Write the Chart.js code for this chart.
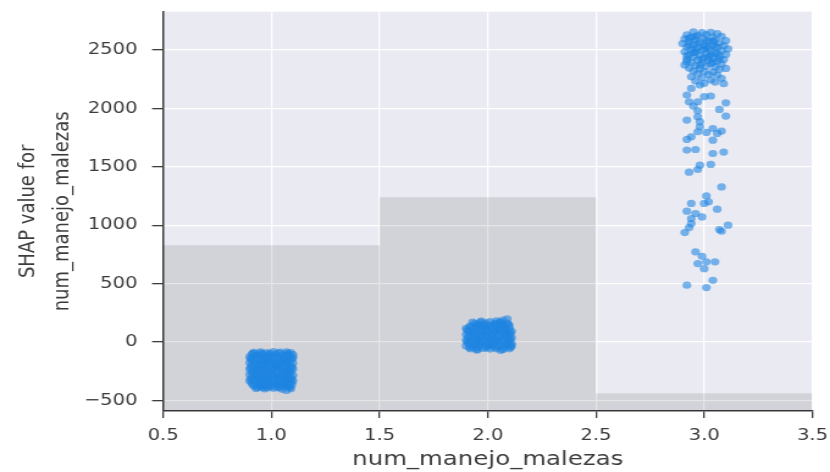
<!DOCTYPE html>
<html>
<head>
<meta charset="utf-8">
<script src="https://cdn.jsdelivr.net/npm/chart.js@4.4.0/dist/chart.umd.min.js"></script>
<style>
	html, body { margin: 0; padding: 0; background: #ffffff; overflow: hidden; }
	/* the reference picture is stretched sideways, so the chart is drawn narrow and widened */
	#wrap { width: 680px; height: 472px; transform: scaleX(1.2206); transform-origin: 0 0; }
</style>
</head>
<body>
<div id="wrap"><canvas id="chart" width="680" height="472"></canvas></div>
<script>
// histogram of the feature (drawn in SHAP units behind the points)
var histEdges = [0.5, 1.5, 2.5, 3.5];
var histTops = [829, 1240, -440];

// axis ticks
var xTicks = [0.5, 1.0, 1.5, 2.0, 2.5, 3.0, 3.5];
var yTicks = [-500, 0, 500, 1000, 1500, 2000, 2500];

// SHAP values, feature value 1 (jittered x)
var shapAt1 = [
	[0.92,-88],[0.95,-84],[0.98,-90],[1.01,-82],[1.04,-87],[1.07,-85],[1.09,-92],
	[0.91,-105],[0.93,-110],[0.96,-102],[0.99,-108],[1.02,-104],[1.05,-111],[1.08,-106],[1.10,-109],
	[0.90,-128],[0.92,-134],[0.95,-131],[0.97,-126],[1.00,-133],[1.03,-129],[1.06,-135],[1.08,-127],[1.10,-132],
	[0.91,-156],[0.94,-151],[0.96,-158],[0.99,-153],[1.01,-160],[1.04,-150],[1.06,-157],[1.09,-154],
	[0.90,-178],[0.93,-184],[0.95,-176],[0.98,-182],[1.00,-179],[1.02,-186],[1.05,-177],[1.07,-183],[1.10,-180],
	[0.91,-203],[0.94,-209],[0.97,-201],[0.99,-207],[1.02,-204],[1.04,-210],[1.07,-202],[1.09,-206],
	[0.90,-232],[0.92,-227],[0.95,-234],[0.98,-229],[1.01,-235],[1.03,-228],[1.06,-233],[1.08,-226],[1.10,-231],
	[0.91,-254],[0.94,-259],[0.96,-252],[0.99,-257],[1.02,-251],[1.05,-258],[1.07,-253],[1.09,-260],
	[0.90,-279],[0.93,-284],[0.95,-277],[0.98,-282],[1.00,-286],[1.03,-278],[1.06,-283],[1.08,-280],[1.10,-285],
	[0.91,-304],[0.94,-308],[0.97,-301],[0.99,-309],[1.02,-303],[1.04,-307],[1.07,-302],[1.09,-306],
	[0.90,-331],[0.92,-326],[0.95,-333],[0.98,-328],[1.01,-334],[1.03,-327],[1.06,-332],[1.08,-329],[1.10,-335],
	[0.91,-353],[0.94,-358],[0.96,-351],[0.99,-356],[1.02,-360],[1.05,-352],[1.07,-357],[1.09,-354],
	[0.92,-378],[0.95,-383],[0.98,-376],[1.00,-381],[1.03,-385],[1.06,-379],[1.08,-384],
	[0.93,-398],[0.97,-402],[1.01,-396],[1.05,-405],[1.07,-415],[1.09,-400],[0.96,-392],
	[0.935,-118],[0.975,-142],[1.015,-120],[1.055,-145],[0.945,-192],[0.985,-168],[1.025,-195],[1.065,-170],
	[0.925,-245],[0.965,-218],[1.005,-246],[1.045,-220],[1.085,-244],[0.935,-292],[0.975,-270],[1.015,-295],
	[1.055,-268],[0.945,-342],[0.985,-318],[1.025,-345],[1.065,-320],[0.965,-366],[1.035,-370],
	[0.915,-96],[0.955,-95],[0.995,-97],[1.035,-96],[1.075,-98],
	[0.905,-142],[0.945,-120],[0.985,-128],[1.025,-141],[1.065,-118],[1.095,-144],
	[0.915,-166],[0.955,-190],[0.995,-171],[1.035,-192],[1.075,-168],
	[0.905,-218],[0.945,-240],[0.985,-217],[1.025,-222],[1.065,-245],[1.095,-218],
	[0.915,-268],[0.955,-290],[0.995,-270],[1.035,-292],[1.075,-266],
	[0.905,-318],[0.945,-316],[0.985,-343],[1.025,-318],[1.065,-344],[1.095,-320],
	[0.915,-366],[0.955,-372],[0.995,-368],[1.045,-366],[1.075,-372],[1.095,-366],
	[0.935,-388],[0.985,-392],[1.035,-394],[1.085,-390]
];

// SHAP values, feature value 2
var shapAt2 = [
	[1.92,-58],[1.95,-63],[1.98,-56],[2.01,-61],[2.04,-57],[2.07,-64],[2.10,-59],
	[1.90,-34],[1.93,-38],[1.96,-31],[1.99,-36],[2.02,-33],[2.05,-39],[2.08,-32],[2.11,-37],
	[1.91,-9],[1.94,-13],[1.97,-6],[2.00,-11],[2.03,-8],[2.06,-14],[2.09,-7],[2.11,-12],
	[1.90,16],[1.92,12],[1.95,18],[1.98,13],[2.01,19],[2.04,11],[2.07,17],[2.10,14],
	[1.91,41],[1.94,37],[1.97,44],[2.00,38],[2.02,43],[2.05,36],[2.08,42],[2.11,39],
	[1.90,64],[1.93,68],[1.96,62],[1.99,67],[2.02,63],[2.05,69],[2.08,61],[2.10,66],
	[1.91,89],[1.94,93],[1.97,87],[2.00,92],[2.03,88],[2.06,94],[2.09,86],[2.11,91],
	[1.90,116],[1.93,112],[1.96,118],[1.99,113],[2.02,119],[2.05,111],[2.08,117],[2.10,114],
	[1.92,139],[1.95,143],[1.98,137],[2.01,142],[2.04,138],[2.07,144],[2.10,140],
	[1.94,160],[1.99,163],[2.03,158],[2.06,165],[2.09,161],
	[2.04,180],[2.07,188],[2.09,198],[1.97,178],[2.01,175],[1.93,170],
	[1.95,-70],[2.06,-72],
	[1.925,-22],[1.965,2],[2.005,-25],[2.045,0],[2.085,-20],[1.935,28],[1.975,55],[2.015,26],
	[2.055,52],[2.095,27],[1.925,78],[1.965,103],[2.005,76],[2.045,100],[2.085,79],[1.945,128],
	[1.985,150],[2.025,126],[2.065,152],
	[1.915,-48],[1.955,-47],[1.995,-49],[2.035,-46],[2.075,-50],[2.105,-45],
	[1.905,3],[1.945,-21],[1.985,3],[2.025,-21],[2.065,5],[2.105,-22],
	[1.915,52],[1.955,28],[1.995,53],[2.035,27],[2.075,54],[2.105,28],
	[1.905,102],[1.945,77],[1.985,102],[2.025,78],[2.065,103],[2.105,79],
	[1.915,128],[1.955,152],[1.995,128],[2.035,150],[2.075,127],[2.095,152],
	[1.965,170],[2.055,172]
];

// SHAP values, feature value 3
var shapAt3 = [
	[2.95,2655],[2.99,2648],[3.03,2652],[3.06,2640],[2.92,2630],[2.97,2625],[3.01,2632],[3.08,2618],[2.94,2610],[3.04,2608],
	[2.91,2595],[2.96,2590],[3.00,2598],[3.05,2585],[3.10,2580],[2.93,2570],[2.98,2565],[3.02,2572],[3.07,2560],[2.90,2555],
	[2.95,2548],[3.00,2540],[3.04,2545],[3.09,2538],[2.92,2525],[2.97,2520],[3.02,2515],[3.06,2522],[3.11,2510],[2.94,2505],
	[2.99,2498],[3.03,2490],[3.08,2495],[2.91,2485],[2.96,2478],[3.01,2470],[3.05,2475],[2.93,2460],[2.98,2455],[3.07,2450],
	[3.10,2462],[2.95,2440],[3.00,2435],[3.04,2428],[2.92,2420],[2.97,2415],[3.02,2410],[3.06,2405],[3.09,2418],[2.94,2395],
	[2.99,2390],[3.03,2385],[3.08,2380],[2.91,2372],[2.96,2365],[3.01,2360],[3.05,2355],[2.93,2345],[2.98,2338],[3.07,2335],
	[3.10,2342],[2.95,2320],[3.00,2315],[3.04,2310],[2.97,2295],[3.02,2290],[3.06,2285],[2.94,2270],[2.99,2262],[3.08,2258],
	[3.03,2245],[2.96,2235],[3.05,2225],[3.00,2215],[2.98,2200],[3.09,2212],
	[2.93,2600],[3.01,2580],[2.97,2555],[3.05,2530],[2.93,2540],[3.00,2510],[2.96,2500],[3.03,2455],[2.99,2420],[2.95,2480],
	[3.06,2470],[2.92,2450],[3.02,2440],[2.98,2370],[3.04,2395],[2.92,2400],[3.07,2425],[3.01,2530],[2.96,2615],[3.04,2575],
	[2.92,2114],[2.94,2171],[3.03,2106],[3.00,2100],[2.93,2057],[2.97,2057],[3.10,2048],[2.95,2020],[3.07,1991],[2.97,1980],
	[3.10,1934],[2.97,1928],[2.92,1900],[2.98,1886],[2.98,1843],[3.04,1828],[2.97,1800],[3.01,1794],[3.06,1786],[3.08,1806],
	[2.94,1757],[2.92,1734],[3.04,1728],[2.92,1643],[2.96,1648],[3.04,1614],[3.09,1626],[2.98,1514],[3.03,1520],[2.97,1477],
	[2.93,1454],[3.08,1328],[3.01,1251],[3.02,1200],[3.00,1186],[2.94,1186],[3.06,1137],[2.92,1120],[2.96,1100],[2.99,1071],
	[2.94,1057],[2.94,1014],[3.11,1000],[2.93,980],[3.07,963],[2.91,937],[3.08,948],[2.96,771],[2.99,734],[3.01,686],
	[2.97,671],[3.05,686],[3.00,628],[3.04,528],[2.92,486],[3.01,466]
];

function toPoints(list) {
	return list.map(function (p) { return { x: p[0], y: p[1] }; });
}

var histPoints = histEdges.map(function (e, i) {
	return { x: e, y: histTops[Math.min(i, histTops.length - 1)] };
});

var shapPoints = toPoints(shapAt1).concat(toPoints(shapAt2), toPoints(shapAt3));

// lavender plot background like seaborn
var plotBg = {
	id: 'plotBg',
	beforeDraw: function (chart) {
		var a = chart.chartArea;
		var ctx = chart.ctx;
		ctx.save();
		ctx.fillStyle = '#eaeaf2';
		ctx.fillRect(a.left, a.top, a.right - a.left, a.bottom - a.top);
		ctx.restore();
	}
};

var textColor = '#3c3c3c';
var spineColor = '#3c3c3c';

new Chart(document.getElementById('chart'), {
	type: 'scatter',
	data: {
		datasets: [{
			type: 'scatter',
			data: shapPoints,
			order: 0,
			pointRadius: 3.6,
			pointBorderWidth: 0,
			pointBackgroundColor: 'rgba(30,132,225,0.58)',
			pointBorderColor: 'rgba(30,132,225,0)'
		}, {
			type: 'line',
			data: histPoints,
			order: 1,
			stepped: 'before',
			fill: 'start',
			backgroundColor: 'rgba(0,0,0,0.1)',
			borderWidth: 0,
			borderColor: 'rgba(0,0,0,0)',
			pointRadius: 0
		}]
	},
	options: {
		responsive: false,
		animation: false,
		layout: { padding: { left: 0, right: 14.4, top: 11.7, bottom: 0 } },
		plugins: { legend: { display: false }, tooltip: { enabled: false } },
		scales: {
			x: {
				type: 'linear',
				min: 0.5,
				max: 3.5,
				offset: false,
				afterFit: function (s) { s.height = 61; s.paddingLeft = 0; s.paddingRight = 0; },
				afterBuildTicks: function (s) { s.ticks = xTicks.map(function (v) { return { value: v }; }); },
				ticks: {
					color: textColor,
					font: { family: 'DejaVu Sans', size: 16 },
					padding: 8,
					maxRotation: 0,
					callback: function (v) { return Number(v).toFixed(1); }
				},
				grid: { color: '#ffffff', lineWidth: 1.3, tickColor: spineColor, tickLength: 7, tickWidth: 1.3 },
				border: { display: true, color: spineColor, width: 1.5 },
				title: {
					display: true,
					text: 'num_manejo_malezas',
					color: textColor,
					font: { family: 'DejaVu Sans', size: 20 },
					padding: { top: 0, bottom: 0 }
				}
			},
			y: {
				min: -591,
				max: 2828,
				afterFit: function (s) { s.width = 133.6; s.paddingTop = 0; s.paddingBottom = 0; },
				afterBuildTicks: function (s) { s.ticks = yTicks.map(function (v) { return { value: v }; }); },
				ticks: {
					color: textColor,
					font: { family: 'DejaVu Sans', size: 16 },
					padding: 12,
					callback: function (v) { return v < 0 ? '\u2212' + Math.abs(v) : String(v); }
				},
				grid: { color: '#ffffff', lineWidth: 1.3, tickColor: spineColor, tickLength: 9, tickWidth: 1.3 },
				border: { display: true, color: spineColor, width: 1.5 },
				title: {
					display: true,
					text: ['SHAP value for', 'num_manejo_malezas'],
					color: textColor,
					font: { family: 'DejaVu Sans', size: 18, lineHeight: 1.6 },
					padding: { top: 8.6, bottom: 0 }
				}
			}
		}
	},
	plugins: [plotBg]
});
</script>
</body>
</html>
